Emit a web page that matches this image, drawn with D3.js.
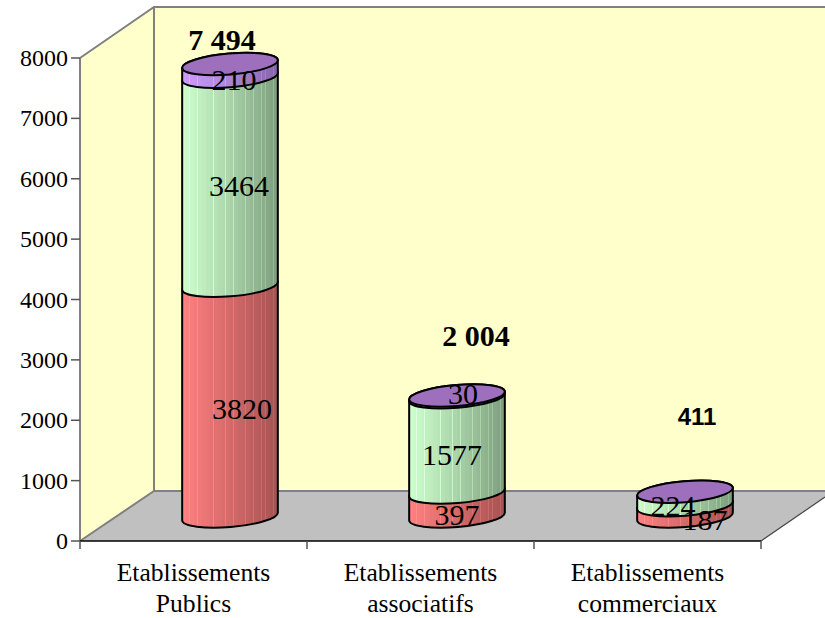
<!DOCTYPE html>
<html><head><meta charset="utf-8">
<script src="https://cdn.jsdelivr.net/npm/d3@7"></script>
<style>html,body{margin:0;padding:0;background:#fff}svg{display:block}text{font-family:"Liberation Serif",serif;fill:#000}</style>
</head><body><svg id="c" width="825" height="618"></svg>
<script>
const categories=[["Etablissements","Publics"],["Etablissements","associatifs"],["Etablissements","commerciaux"]];
const seriesRed=[3820,397,187];
const seriesGreen=[3464,1577,224];
const seriesPurple=[210,30,0];
const totals=[7494,2004,411];
const totalLabels=["7 494","2 004","411"];
const yTicks=[0,1000,2000,3000,4000,5000,6000,7000,8000];

const svg=d3.select("#c");
const W=825,H=618;
const y=d3.scaleLinear().domain([0,8000]).range([541,58]);
const x=d3.scaleBand().domain(d3.range(3)).range([80,761]);
const dx=74,dy=50;
const line=d3.line();

// walls
svg.append("path").attr("d",line([[x.range()[0],y(0)],[x.range()[0],y(8000)],[x.range()[0]+dx,7],[x.range()[0]+dx,y(0)-dy]])+"Z").attr("fill","#ffffcc");
svg.append("rect").attr("x",154).attr("y",7).attr("width",W-154).attr("height",484).attr("fill","#ffffcc");
svg.append("path").attr("d",line([[80,541],[154,491],[825,491],[825,497],[761,541]])+"Z").attr("fill","#c0c0c0");
const gray="#808080";
svg.append("path").attr("d",line([[80,58],[154,7],[825,7]])).attr("fill","none").attr("stroke",gray).attr("stroke-width",2);
svg.append("path").attr("d",line([[154,7],[154,491]])).attr("fill","none").attr("stroke",gray).attr("stroke-width",2);
svg.append("path").attr("d",line([[825,491],[154,491],[80,541]])).attr("fill","none").attr("stroke",gray).attr("stroke-width",2);
svg.append("path").attr("d",line([[761,541],[825,497]])).attr("fill","none").attr("stroke","#444").attr("stroke-width",1.2);

// axes
svg.append("line").attr("x1",80).attr("x2",80).attr("y1",58).attr("y2",541).attr("stroke",gray).attr("stroke-width",2);
svg.selectAll(".yt").data(yTicks).join("line").attr("x1",71).attr("x2",80).attr("y1",d=>y(d)).attr("y2",d=>y(d)).attr("stroke","#555").attr("stroke-width",1.5);
svg.selectAll(".yl").data(yTicks).join("text").attr("x",68).attr("y",d=>y(d)+8).attr("text-anchor","end").attr("font-size",24).text(d=>d);
svg.append("line").attr("x1",80).attr("x2",761).attr("y1",541).attr("y2",541).attr("stroke","#000").attr("stroke-width",1.5);
[0,1,2,3].forEach(i=>{const px=i<3?x(i):x.range()[1];
 svg.append("line").attr("x1",px).attr("x2",px).attr("y1",541).attr("y2",549).attr("stroke","#555").attr("stroke-width",1.5);});
categories.forEach((c,i)=>{const cx=x(i)+x.bandwidth()/2;
 svg.append("text").attr("x",cx).attr("y",581).attr("text-anchor","middle").attr("font-size",25.6).text(c[0]);
 svg.append("text").attr("x",cx).attr("y",612).attr("text-anchor","middle").attr("font-size",25.6).text(c[1]);});

// gradients
const defs=svg.append("defs");
const stripeBands=[1,3,7,10,12,15,17,19,20,22];
function grad(id,c0,c1,c2){
 const g=defs.append("linearGradient").attr("id",id).attr("x1",0).attr("x2",1).attr("y1",0).attr("y2",0);
 const n=24, a=d3.interpolateRgb(c0,c1), b=d3.interpolateRgb(c1,c2);
 const add=(o,col)=>g.append("stop").attr("offset",o).attr("stop-color",col);
 for(let i=0;i<n;i++){const t=i/(n-1);const col=t<.45?a(t/.45):b((t-.45)/.55);
  const end=(i+1)/n;
  add(i/n,col);
  if(stripeBands.includes(i)){
   const lite=d3.color(col).brighter(.35).formatHex();
   add(end-.012,col);add(end-.012,lite);add(end,lite);
  } else add(end,col);
 }
}
grad("gr","#ff8080","#d86c6c","#a65454");
grad("gg","#ccffcc","#aed8ae","#7f9f7f");
grad("gp","#cc99ff","#b088dc","#8866aa");

// cylinders
const rx=48,ry=10.5,rot=-4.8,rad=rot*Math.PI/180;
const ux=rx*Math.cos(rad),uy=rx*Math.sin(rad);
const baseY=516.5-y(0);
const layers=[["gr",seriesRed],["gg",seriesGreen],["gp",seriesPurple]];
const centers=[230,457,685];
centers.forEach((cx,i)=>{
 let cum=0;
 const g=svg.append("g");
 layers.forEach(([id,vals])=>{
  const v=vals[i]; if(!v) return;
  const y0=y(cum)+baseY,y1=y(cum+v)+baseY; cum+=v;
  const arc=`A${rx} ${ry} ${rot} 0 0`;
  g.append("path").attr("d",`M${cx-ux} ${y1-uy}L${cx-ux} ${y0-uy}${arc} ${cx+ux} ${y0+uy}L${cx+ux} ${y1+uy}${arc} ${cx-ux} ${y1-uy}Z`)
   .attr("fill",`url(#${id})`).attr("stroke","#000").attr("stroke-width",2).attr("stroke-linejoin","round");
 });
 g.append("ellipse").attr("cx",0).attr("cy",0).attr("rx",rx).attr("ry",ry)
  .attr("transform",`translate(${cx},${y(totals[i])+baseY}) rotate(${rot})`)
  .attr("fill","#9d6fbd").attr("stroke","#000").attr("stroke-width",2);
});

// value labels
const lab=[[242,419,seriesRed[0]],[239,196,seriesGreen[0]],[234,90,seriesPurple[0]],
 [457,525,seriesRed[1]],[452,465,seriesGreen[1]],[463,404,seriesPurple[1]],
 [705,530,seriesRed[2]],[673,516,seriesGreen[2]]];
lab.forEach(([a,b,t])=>svg.append("text").attr("x",a).attr("y",b).attr("text-anchor","middle").attr("font-size",30).text(t));
svg.append("text").attr("x",222).attr("y",50).attr("text-anchor","middle").attr("font-size",30).attr("font-weight","bold").text(totalLabels[0]);
svg.append("text").attr("x",476).attr("y",346).attr("text-anchor","middle").attr("font-size",30).attr("font-weight","bold").text(totalLabels[1]);
svg.append("text").attr("x",697).attr("y",425).attr("text-anchor","middle").attr("font-size",24).attr("font-weight","bold").style("font-family","'Liberation Sans',sans-serif").text(totalLabels[2]);
</script></body></html>
